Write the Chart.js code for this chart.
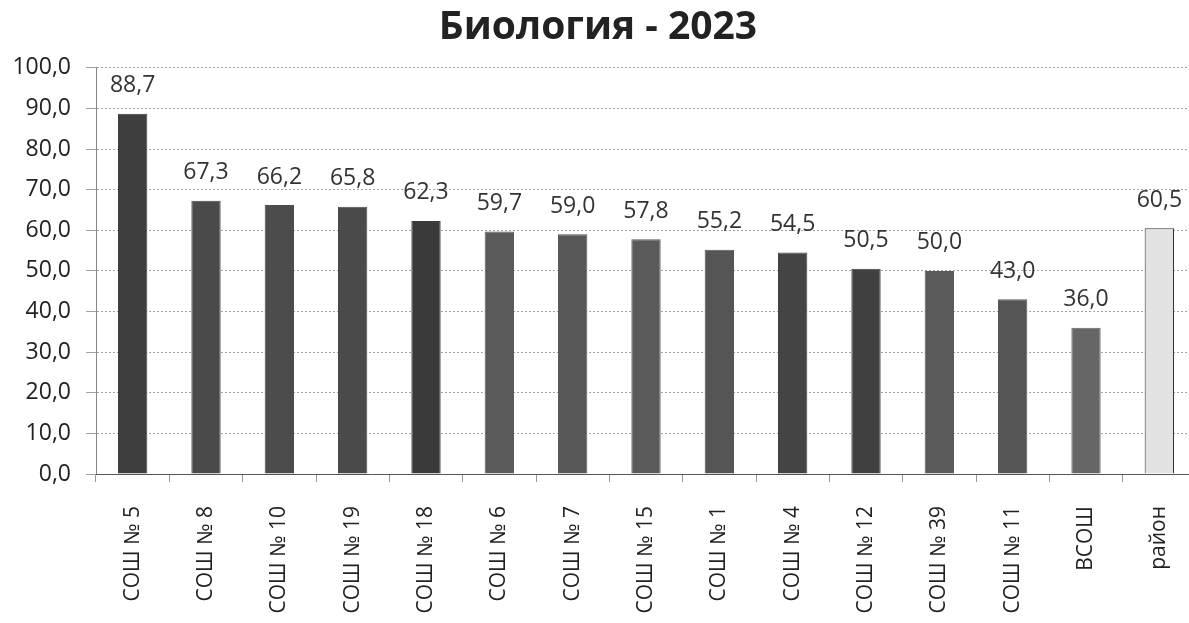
<!DOCTYPE html>
<html>
<head>
<meta charset="utf-8">
<script src="https://cdn.jsdelivr.net/npm/chart.js@4/dist/chart.umd.min.js"></script>
<style>
html,body{margin:0;padding:0;background:#fff;overflow:hidden;}
#wrap{width:1189px;height:623px;overflow:hidden;}
</style>
</head>
<body>
<div id="wrap"><canvas id="c" width="1196" height="623"></canvas></div>
<script>
const categories = ["СОШ № 5","СОШ № 8","СОШ № 10","СОШ № 19","СОШ № 18","СОШ № 6","СОШ № 7","СОШ № 15","СОШ № 1","СОШ № 4","СОШ № 12","СОШ № 39","СОШ № 11","ВСОШ","район"];
const scores = [88.7,67.3,66.2,65.8,62.3,59.7,59.0,57.8,55.2,54.5,50.5,50.0,43.0,36.0,60.5];
const barColors = ["#3e3e3e","#4a4a4a","#4c4c4c","#4a4a4a","#3a3a3a","#5a5a5a","#585858","#5a5a5a","#555555","#444444","#404040","#5a5a5a","#555555","#666666","#e2e2e2"];
const borderColors = ["#3e3e3e","#4a4a4a","#4c4c4c","#4a4a4a","#3a3a3a","#5a5a5a","#585858","#5a5a5a","#555555","#444444","#404040","#5a5a5a","#555555","#666666","#333333"];
const titleText = "Биология - 2023";
const FONT = "'Open Sans', 'DejaVu Sans', sans-serif";
const fmt = v => v.toFixed(1).replace('.', ',');

const valueLabels = {
  id: 'valueLabels',
  afterDatasetsDraw(chart) {
    const ctx = chart.ctx;
    const meta = chart.getDatasetMeta(0);
    ctx.save();
    ctx.font = "23px " + FONT;
    ctx.fillStyle = "#333";
    ctx.textAlign = "center";
    ctx.textBaseline = "middle";
    meta.data.forEach((bar, i) => {
      ctx.fillText(fmt(scores[i]), bar.x, bar.y - 28);
    });
    ctx.restore();
  }
};

new Chart(document.getElementById('c'), {
  type: 'bar',
  data: {
    labels: categories,
    datasets: [{
      data: scores,
      backgroundColor: barColors,
      borderColor: borderColors,
      borderWidth: 1,
      categoryPercentage: 1.0,
      barPercentage: 0.4
    }]
  },
  options: {
    responsive: false,
    animation: false,
    layout: { padding: { left: 0, right: 0, top: 0, bottom: 0 } },
    plugins: {
      legend: { display: false },
      tooltip: { enabled: false },
      title: {
        display: true,
        text: titleText,
        color: "#222",
        font: { family: FONT, size: 39, weight: 'bold', lineHeight: 1.2 },
        padding: { top: 4, bottom: 17 }
      }
    },
    scales: {
      y: {
        min: 0, max: 100,
        ticks: {
          stepSize: 10,
          color: "#222",
          font: { family: FONT, size: 23 },
          padding: 15,
          callback: v => fmt(v)
        },
        grid: { color: "#a0a0a0", lineWidth: 1, tickLength: 10 },
        border: { color: "#888", dash: [2, 2] },
        afterFit: s => { s.width = 96; }
      },
      x: {
        ticks: {
          color: "#222",
          font: { family: FONT, size: 21 },
          minRotation: 90, maxRotation: 90,
          padding: 24,
          autoSkip: false
        },
        grid: { offset: true, drawOnChartArea: false, tickLength: 8, color: "#999" },
        border: { color: "#555" },
        afterFit: s => { s.height = 149; s.paddingRight = 0; s.paddingLeft = 0; }
      }
    }
  },
  plugins: [valueLabels]
});
</script>
</body>
</html>
